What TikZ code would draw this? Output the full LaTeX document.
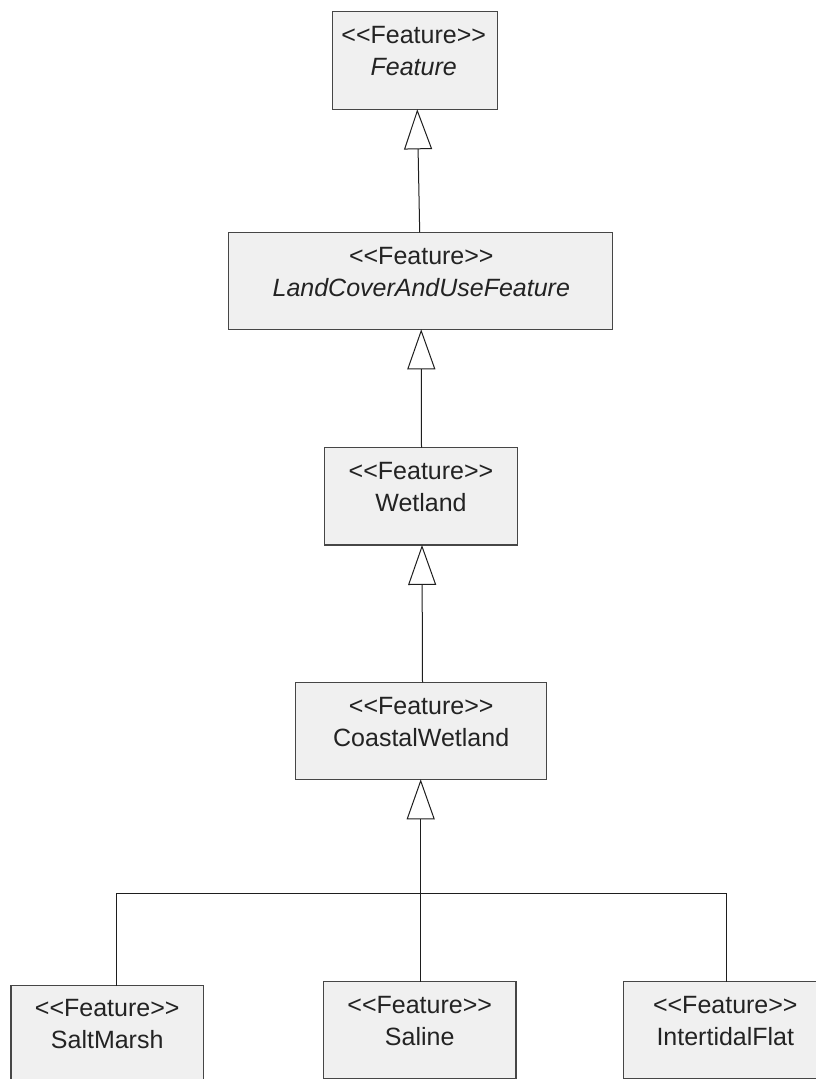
\documentclass[tikz,border=0pt]{standalone}
\usepackage{fontspec}
\setmainfont{Liberation Sans}
\usetikzlibrary{arrows.meta,calc}
\definecolor{boxfill}{RGB}{240,240,240}
\definecolor{boxline}{RGB}{70,70,70}
\definecolor{txt}{RGB}{35,35,35}
\definecolor{conn}{RGB}{30,30,30}
\newcommand{\stereo}{<\kern0pt<Feature>\kern0pt>}
\tikzset{
  umlbox/.style={draw=boxline, fill=boxfill, line width=1.3pt, rectangle, inner sep=0pt, outer sep=0pt},
  lbl/.style={text=txt, inner sep=0pt, anchor=base, font=\fontsize{25}{30}\selectfont},
  ilbl/.style={lbl, font=\fontsize{25}{30}\selectfont\itshape},
  gen/.style={draw=conn, line width=1pt, -{Triangle[length=40pt,width=28pt,fill=white,line width=1pt]}},
  plain/.style={draw=conn, line width=1pt}
}
\begin{document}
\begin{tikzpicture}[x=1pt,y=-1pt]
\clip (0,0) rectangle (816,1079);
\fill[white] (0,0) rectangle (816,1079);
% boxes
\node[umlbox, minimum width=165pt, minimum height=97.6pt] (ft) at (414.8,60.5) {};
\node[umlbox, minimum width=384.4pt, minimum height=97pt] (lc) at (420.5,280.8) {};
\node[umlbox, minimum width=192.6pt, minimum height=97.3pt] (wl) at (421,496.3) {};
\node[umlbox, minimum width=251pt, minimum height=97pt] (cw) at (421.2,730.8) {};
\node[umlbox, minimum width=192.3pt, minimum height=97pt] (sm) at (107.2,1034.2) {};
\node[umlbox, minimum width=192.7pt, minimum height=97pt] (sa) at (419.7,1030.2) {};
\node[umlbox, minimum width=203.2pt, minimum height=97pt] (it) at (725.3,1030.2) {};
% texts
\node[lbl] (ftS) at (413.7,43.3) {\stereo};
\node[ilbl] (ftN) at (413.7,75.3) {Feature};
\node[lbl] (lcS) at (421.3,264) {\stereo};
\node[ilbl] (lcN) at (421.3,296) {LandCoverAndUseFeature};
\node[lbl] (wlS) at (421,479.3) {\stereo};
\node[lbl] (wlN) at (421,511.3) {Wetland};
\node[lbl] (cwS) at (421.2,714) {\stereo};
\node[lbl] (cwN) at (421.2,746) {CoastalWetland};
\node[lbl] (smS) at (107.2,1016.9) {\stereo};
\node[lbl] (smN) at (107.2,1048.9) {SaltMarsh};
\node[lbl] (saS) at (419.7,1013) {\stereo};
\node[lbl] (saN) at (419.7,1045) {Saline};
\node[lbl] (itS) at (725.3,1013) {\stereo};
\node[lbl] (itN) at (725.3,1045) {IntertidalFlat};
% connectors
\draw[gen] (lc.north -| 419.7,0) -- (ft.south -| 417.3,0);
\draw[gen] (wl.north -| 421.5,0) -- (lc.south -| 421.2,0);
\draw[gen] (cw.north -| 422.5,0) -- (wl.south -| 422,0);
\coordinate (jl) at (116.7,893.3);
\coordinate (jm) at (420.7,893.3);
\coordinate (jr) at (726.3,893.3);
\draw[gen] (sa.north -| jm) -- (cw.south -| jm);
\draw[plain] (sm.north -| jl) -- (jl) -- (jr) -- (it.north -| jr);
\end{tikzpicture}
\end{document}
